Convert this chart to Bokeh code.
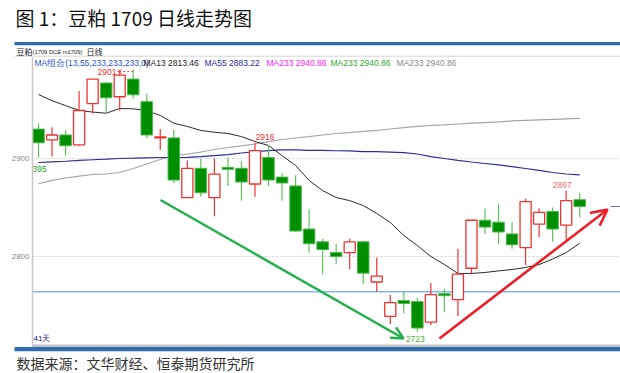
from bokeh.plotting import figure
from bokeh.models import Range1d, FixedTicker, Arrow, OpenHead, Label
from bokeh.embed import file_html
from bokeh.resources import INLINE

# ---------------- data ----------------
opens  = [2930, 2919, 2924, 2914, 2956, 2977, 2963, 2981, 2958, 2921,
          2921, 2860, 2890, 2860, 2891, 2890, 2874, 2901, 2881, 2872,
          2828, 2815, 2804, 2804, 2815, 2774, 2739, 2755, 2754, 2733,
          2762, 2756, 2788, 2837, 2835, 2823, 2809, 2833, 2846, 2832, 2858]
highs  = [2936, 2932, 2929, 2969, 2981, 2978, 2990, 2991, 2966, 2930,
          2929, 2898, 2900, 2900, 2901, 2897, 2916, 2914, 2885, 2883,
          2848, 2818, 2813, 2818, 2816, 2799, 2761, 2764, 2758, 2773,
          2767, 2808, 2837, 2849, 2854, 2835, 2859, 2849, 2850, 2867, 2865]
lows   = [2901, 2902, 2903, 2913, 2946, 2946, 2949, 2961, 2921, 2909,
          2875, 2860, 2861, 2841, 2872, 2857, 2861, 2872, 2857, 2825,
          2804, 2782, 2792, 2787, 2772, 2764, 2731, 2742, 2723, 2730,
          2743, 2739, 2782, 2823, 2813, 2808, 2791, 2820, 2815, 2817, 2840]
closes = [2916, 2924, 2913, 2949, 2981, 2962, 2985, 2965, 2924, 2922,
          2878, 2890, 2865, 2884, 2889, 2876, 2908, 2878, 2875, 2826,
          2813, 2807, 2800, 2815, 2783, 2780, 2753, 2752, 2727, 2761,
          2760, 2782, 2837, 2830, 2825, 2812, 2856, 2845, 2828, 2857, 2851]
ma13  = [2965.3, 2959.0, 2954.0, 2949.0, 2947.4, 2946.2, 2951.0, 2950.7, 2949.0, 2943.9,
         2936.0, 2932.7, 2928.6, 2926.8, 2925.5, 2922.4, 2917.3, 2913.3, 2903.0, 2892.9,
         2877.6, 2867.3, 2860.2, 2857.0, 2852.0, 2843.9, 2834.7, 2821.4, 2811.2, 2800.0,
         2791.8, 2782.7, 2782.7, 2783.7, 2785.3, 2786.7, 2788.8, 2791.8, 2797.4, 2804.0, 2813.46]
ma55  = [2895.9, 2896.6, 2897.2, 2898.0, 2898.7, 2899.3, 2900.0, 2900.3, 2900.7, 2901.0,
         2901.0, 2901.2, 2902.0, 2903.0, 2904.0, 2905.6, 2907.0, 2908.0, 2908.7, 2908.7,
         2908.2, 2908.2, 2907.9, 2907.7, 2907.0, 2907.0, 2906.6, 2906.0, 2904.6, 2902.0,
         2900.0, 2898.0, 2896.4, 2894.9, 2893.4, 2891.8, 2889.8, 2887.8, 2885.7, 2884.2, 2883.22]
ma233 = [2874.2, 2877.6, 2880.1, 2882.1, 2883.7, 2884.2, 2885.7, 2889.8, 2894.4, 2899.0,
         2902.6, 2904.6, 2906.6, 2909.2, 2911.2, 2912.9, 2914.8, 2917.3, 2919.4, 2920.9,
         2922.4, 2924.0, 2925.5, 2926.5, 2927.6, 2928.6, 2930.1, 2931.6, 2932.7, 2933.7,
         2934.4, 2935.2, 2936.0, 2936.7, 2937.4, 2938.3, 2939.0, 2939.5, 2940.0, 2940.5, 2940.86]
y_ticks = [2800, 2900]
support_level = 2764
peak_text = "2901"
title_text = "图 1：豆粕 1709 日线走势图"
footer_text = "数据来源：文华财经、恒泰期货研究所"
legend_items = [("MA组合(13,55,233,233,233,0)", "#2f55c8"),
                ("MA13 2813.46", "#222222"),
                ("MA55 2883.22", "#2a2a9c"),
                ("MA233 2940.86", "#ff22ff"),
                ("MA233 2940.86", "#33aa33"),
                ("MA233 2940.86", "#8a8a8a")]

# ---------------- geometry ----------------
W, H = 620, 373
OX, OY = 0, 0          # page position of the figure's top-left corner
X0, DX, Y2900, PPU = 38.0, 13.53, 158.0, 0.98   # page px of candle 0, spacing, y of 2900, px per point


def px_x(page_x):
    return (page_x - X0) / DX


def px_y(page_y):
    return 2900 + (Y2900 - page_y) / PPU


p = figure(width=W, height=H, output_backend="svg", toolbar_location=None,
           x_range=Range1d(px_x(OX), px_x(OX + W)), y_range=Range1d(px_y(OY + H), px_y(OY)),
           min_border=0, min_border_left=0, min_border_right=0, min_border_top=0, min_border_bottom=0)
p.outline_line_color = None
p.background_fill_color = "white"
p.border_fill_color = "white"
p.xaxis.visible = False
p.xgrid.visible = False
p.ygrid.visible = False

axis_x = px_x(32)
yax = p.yaxis[0]
yax.fixed_location = axis_x
yax.ticker = FixedTicker(ticks=y_ticks)
yax.major_tick_out = 0
yax.major_tick_in = 0
yax.minor_tick_out = 0
yax.minor_tick_in = 0
yax.axis_line_color = "#c8c8c8"
yax.axis_line_width = 1.5
yax.major_label_text_font = "Liberation Sans"
yax.major_label_text_font_size = "8px"
yax.major_label_text_color = "#8a8a8a"
yax.major_label_standoff = 3
yax.bounds = (px_y(346), px_y(57))

right_x = px_x(OX + W)

# decorations: blue rules, grey lines
p.quad(left=px_x(14), right=right_x, top=px_y(41.5), bottom=px_y(44.7), fill_color="#2f6eae", line_color=None)
p.quad(left=px_x(14), right=right_x, top=px_y(346.6), bottom=px_y(350.8), fill_color="#2f6eae", line_color=None)
p.segment(x0=[px_x(14)], y0=[px_y(55.7)], x1=[right_x], y1=[px_y(55.7)], line_color="#d6d6d6", line_width=1)
p.segment(x0=[axis_x], y0=[px_y(345.2)], x1=[right_x], y1=[px_y(345.2)], line_color="#c4c4c4", line_width=2.5)

# grid lines (dotted) from tick values
p.segment(x0=[axis_x] * len(y_ticks), y0=y_ticks, x1=[right_x] * len(y_ticks), y1=y_ticks,
          line_color="#d2d2d2", line_width=1, line_dash="2 2")

# support line
p.segment(x0=[axis_x], y0=[support_level], x1=[right_x], y1=[support_level], line_color="#84b6ee", line_width=1.5)

# moving averages
idx = list(range(len(opens)))
p.line(idx, ma233, line_color="#a6a6a6", line_width=1.2)
p.line(idx, ma55, line_color="#2e2e9e", line_width=1.2)
p.line(idx, ma13, line_color="#2a2a2a", line_width=1)

# candles
up = [i for i in idx if closes[i] >= opens[i]]
dn = [i for i in idx if closes[i] < opens[i]]
RED, GREEN_W, GREEN_F, GREEN_E = "#ec3434", "#62c262", "#008f00", "#4cb84c"
p.segment(x0=up, y0=[highs[i] for i in up], x1=up, y1=[lows[i] for i in up], line_color=RED, line_width=1.2)
p.segment(x0=dn, y0=[highs[i] for i in dn], x1=dn, y1=[lows[i] for i in dn], line_color=GREEN_W, line_width=1.2)
p.vbar(x=up, width=0.82, top=[closes[i] for i in up], bottom=[opens[i] for i in up],
       fill_color="white", line_color=RED, line_width=1.3)
p.vbar(x=dn, width=0.85, top=[opens[i] for i in dn], bottom=[closes[i] for i in dn],
       fill_color=GREEN_F, line_color=GREEN_E, line_width=1)

# trend arrows
p.add_layout(Arrow(x_start=px_x(160), y_start=px_y(199.5), x_end=px_x(403), y_end=px_y(338),
                   line_color="#22b14c", line_width=2.5,
                   end=OpenHead(size=12, line_color="#22b14c", line_width=2.5)))
p.add_layout(Arrow(x_start=px_x(439), y_start=px_y(338), x_end=px_x(607), y_end=px_y(209),
                   line_color="#ed1c24", line_width=2.5,
                   end=OpenHead(size=16, line_color="#ed1c24", line_width=2.5)))
# small marker at the right edge
p.segment(x0=[px_x(610)], y0=[px_y(206)], x1=[right_x], y1=[px_y(206)], line_color="#7070d0", line_width=1)

# peak / trough labels
p.add_layout(Arrow(x_start=7, y_start=px_y(71), x_end=px_x(117), y_end=px_y(71),
                   line_color="#ee5050", line_width=1, line_dash="2 2",
                   end=OpenHead(size=4, line_color="#ee5050", line_width=1)))
p.add_layout(Label(x=px_x(97), y=px_y(71), text=peak_text, text_font="Liberation Sans",
                   text_font_size="8.5px", text_color="#ee3030", text_baseline="middle"))
p.add_layout(Label(x=16, y=highs[16], x_offset=10, y_offset=6, text=str(highs[16]),
                   text_font="Liberation Sans", text_font_size="8.5px", text_color="#ee3030",
                   text_align="center", text_baseline="middle"))
p.add_layout(Label(x=39, y=highs[39], x_offset=-4, y_offset=6, text=str(highs[39]),
                   text_font="Liberation Sans", text_font_size="8.5px", text_color="#f07070",
                   text_align="center", text_baseline="middle"))
p.add_layout(Label(x=28, y=lows[28], x_offset=-2, y_offset=-7, text=str(lows[28]),
                   text_font="Liberation Sans", text_font_size="8.5px", text_color="#55b040",
                   text_align="center", text_baseline="middle"))
p.add_layout(Label(x=axis_x, y=px_y(168.5), text="395", text_font="Liberation Sans",
                   text_font_size="8.5px", text_color="#22a022", text_baseline="middle"))

# title, sub title, legend row, footer
p.add_layout(Label(x=px_x(15), y=px_y(16.5), text=title_text, text_font="Noto Sans CJK SC",
                   text_font_size="19px", text_color="#111111", text_baseline="middle"))
p.add_layout(Label(x=px_x(16), y=px_y(50.5), text="豆粕", text_font="Noto Sans CJK SC",
                   text_font_size="8px", text_color="#222222", text_baseline="middle"))
p.add_layout(Label(x=px_x(32), y=px_y(51), text="(1709 DCE m1709)", text_font="Liberation Sans",
                   text_font_size="5.8px", text_color="#222222", text_baseline="middle"))
p.add_layout(Label(x=px_x(86), y=px_y(50.5), text="日线", text_font="Noto Sans CJK SC",
                   text_font_size="8px", text_color="#222222", text_baseline="middle"))
legend_x = [34, 143, 204, 266, 330, 396]
for (txt, col), lx in zip(legend_items, legend_x):
    p.add_layout(Label(x=px_x(lx), y=px_y(62.5), text=txt, text_font="Liberation Sans",
                       text_font_size="8.5px", text_color=col, text_baseline="middle"))
p.add_layout(Label(x=px_x(33), y=px_y(338), text="41天", text_font="Liberation Sans",
                   text_font_size="8px", text_color="#20208a", text_baseline="middle"))
p.add_layout(Label(x=px_x(16), y=px_y(362.5), text=footer_text, text_font="Noto Sans CJK SC",
                   text_font_size="14px", text_color="#333333", text_baseline="middle"))

open("out.html", "w").write(file_html(p, INLINE))
